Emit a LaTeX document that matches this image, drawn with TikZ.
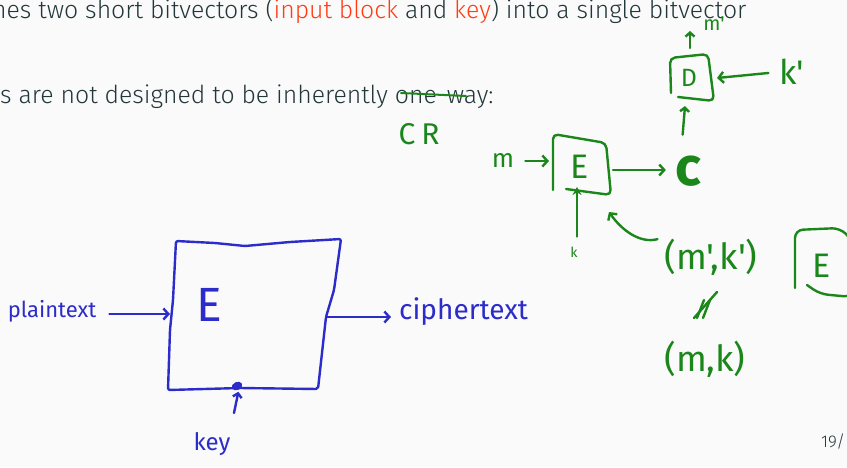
\documentclass[tikz,border=0pt]{standalone}
\usepackage{fontspec}
\setmainfont{Fira Sans Light}
\newfontfamily\inkfont{Fira Sans}
\usetikzlibrary{
  arrows.meta,
  shapes.geometric,
  positioning
}
\definecolor{slBack}{HTML}{FAFAFA}
\definecolor{slText}{HTML}{23373B}
\definecolor{slAlert}{HTML}{FF3D12}
\definecolor{inkBlue}{HTML}{2C2CCB}
\definecolor{inkGreen}{HTML}{1B871B}
\tikzset{
  slide/.style={font=\fontsize{24.8}{29}\selectfont, text=slText, inner sep=0pt, anchor=base west},
  pen/.style={line width=2.4pt, line cap=round, line join=round},
  bluepen/.style={pen, draw=inkBlue},
  greenpen/.style={pen, draw=inkGreen},
  scrawl/.style={font=\inkfont\fontsize{#1}{#1}\selectfont, inner sep=1pt},
  bluetag/.style={scrawl=#1, text=inkBlue},
  greentag/.style={scrawl=#1, text=inkGreen},
  inkarrow/.style={-{Straight Barb[length=5pt,width=11pt]}},
  caret/.style={-{Straight Barb[length=4pt,width=9pt]}}
}

\begin{document}
\begin{tikzpicture}[x=1pt, y=-1pt]
  \fill[slBack] (0,0) rectangle (847,467);
  \useasboundingbox (0,0) rectangle (847,467);
  \clip (0,0) rectangle (847,467);

  % slide text
  \node[slide] (lineA) at (-8,18) {nes two short bitvectors (\textcolor{slAlert}{input block} and \textcolor{slAlert}{key}) into a single bitvector};
  \node[slide] (lineB) at (0,103) {s are not designed to be inherently one-way:};
  \node[slide, font=\fontsize{17}{20}\selectfont] (pgnum) at (821,447) {19/};

  % block cipher sketch (blue)
  \draw[bluepen, rounded corners=2pt] (176,241) -- (215,243) -- (245,246) -- (290,242) -- (341,239)
    -- (334,290) -- (326,317) -- (318,389) -- (240,388) -- (168,390) -- (170,330) -- (173,300) -- cycle;
  \node[bluetag=48] (bigE) at (209,305) {E};
  \node[bluetag=22, anchor=base] (ptxt) at (52,317) {plaintext};
  \node[bluetag=28, anchor=base west] (ctxt) at (398,319) {ciphertext};
  \node[bluetag=24, anchor=base] (keytag) at (212,450) {key};
  \node[ellipse, fill=inkBlue, minimum width=11pt, minimum height=8pt, inner sep=0pt, rotate=25] (kdot) at (237,386) {};
  \coordinate (eIn) at (170,314);
  \coordinate (eOut) at (326,317);
  \coordinate (kTail) at (234,413);
  \draw[bluepen, inkarrow, shorten <=12pt] (ptxt.east |- eIn) -- (eIn);
  \draw[bluepen, inkarrow, shorten >=7pt] (eOut) -- (ctxt.west |- eOut);
  \draw[bluepen, caret, shorten >=2pt] (kTail) -- (kdot.south);

  % notes (green)
  \draw[greenpen, line width=2pt] (401,93) -- (466,96);
  \node[greentag=30] (crtag) at (419,134) {C\hspace{6pt}R};

  \draw[greenpen, rounded corners=5pt] (553,190) -- (553,134) -- (606,143) -- (611,195) -- (566,189);
  \node[greentag=34] (smallE) at (580,167) {E};
  \node[greentag=26, anchor=base] (mtag) at (503,167) {m};
  \node[greentag=14] (ktag) at (574,252) {k};
  \node[greentag=54, font=\inkfont\bfseries\fontsize{54}{54}\selectfont] (ctag) at (688,171) {c};
  \coordinate (gIn) at (549,161);
  \coordinate (gOut) at (613,170);
  \coordinate (gKey) at (577,187);
  \draw[greenpen, inkarrow, shorten <=10pt] (mtag.east |- gIn) -- (gIn);
  \draw[greenpen, inkarrow, shorten >=8pt] (gOut) -- (ctag.west |- gOut);
  \draw[greenpen, -{Stealth[length=8pt,width=9pt]}, shorten <=9pt] (ktag.north -| gKey) -- (gKey);

  \draw[greenpen, rounded corners=5pt] (671,93) -- (670,58) -- (708,54) -- (714,101) -- (678,97);
  \node[greentag=25] (dtag) at (689,78) {D};
  \node[greentag=34] (kptag) at (792,72) {k'};
  \node[greentag=20] (mptag) at (714,24) {m'};
  \coordinate (dIn) at (685,106);
  \coordinate (dKey) at (717,78);
  \coordinate (dOut) at (690,48);
  \coordinate (mpEnd) at (690,31);
  \draw[greenpen, caret, shorten <=20pt] (ctag.north -| 681,0) -- (dIn);
  \draw[greenpen, inkarrow, shorten <=10pt] (kptag.west) -- (dKey);
  \draw[greenpen, caret] (dOut) -- (mpEnd);

  \node[greentag=36] (pairB) at (711,257) {(m',k')};
  \node[greentag=36] (pairA) at (705,359) {(m,k)};
  \coordinate (eBack) at (609,212);
  \draw[greenpen, inkarrow, shorten <=6pt] (pairB.north west) to[out=195, in=-55] (eBack);
  \draw[greenpen] (697,318) -- (704,300);
  \draw[greenpen] (703,318) -- (710,300);
  \draw[greenpen] (694,318) -- (717,292);

  \draw[greenpen, rounded corners=8pt] (795,288) -- (795,230) -- (840,228) -- (852,240) -- (852,297) -- (820,294) -- (807,285);
  \node[greentag=34] (sideE) at (822,266) {E};
\end{tikzpicture}
\end{document}
